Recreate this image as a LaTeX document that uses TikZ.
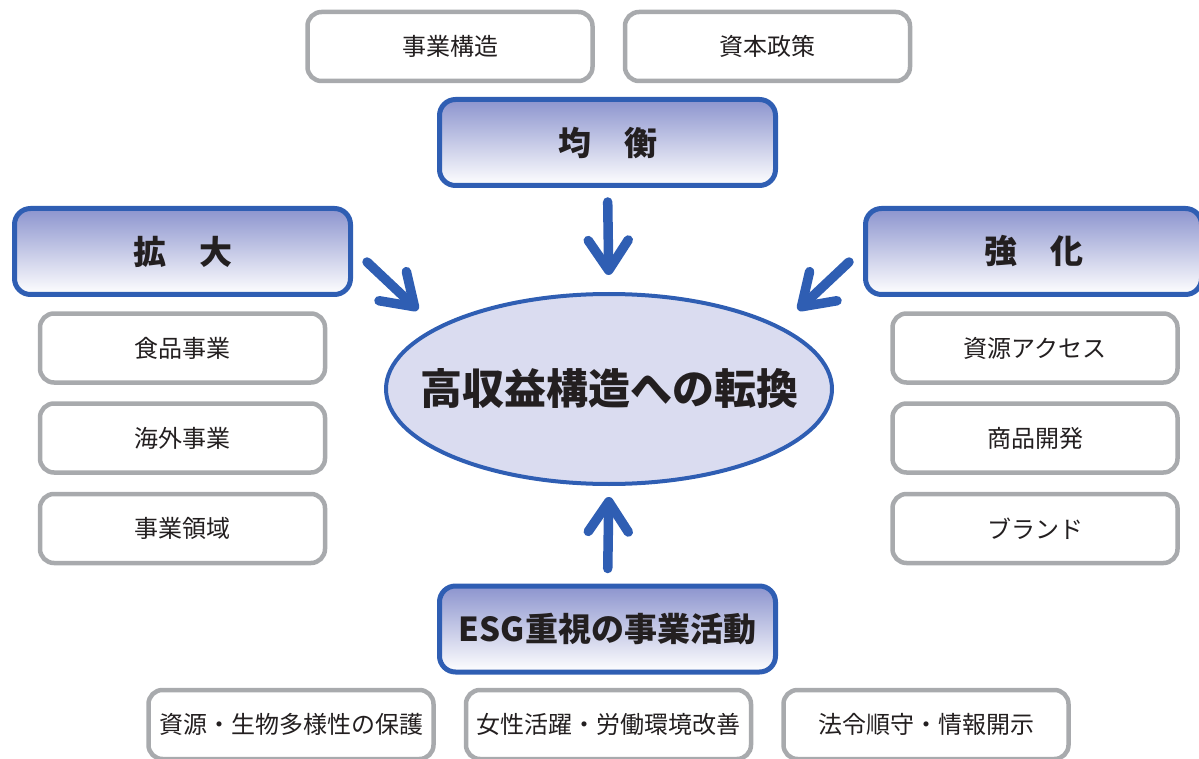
\documentclass[tikz,border=0pt]{standalone}
\usepackage{fontspec}
\setmainfont{Noto Sans CJK JP}
\usetikzlibrary{arrows.meta,shapes.geometric}

\definecolor{blueline}{RGB}{47,94,179}
\definecolor{headtop}{RGB}{140,148,206}
\definecolor{goalfill}{RGB}{218,220,240}
\definecolor{grayline}{RGB}{168,170,173}
\definecolor{textdark}{RGB}{35,31,32}

\tikzset{
  graybox/.style={draw=grayline, line width=4.5pt, rounded corners=14pt, fill=white,
    minimum width=285pt, minimum height=69pt, inner sep=0pt, text=textdark,
    font=\fontsize{24}{28}\selectfont},
  headbox/.style={draw=blueline, line width=5pt, rounded corners=16pt,
    top color=headtop, bottom color=white, minimum width=336pt, minimum height=86pt,
    inner sep=0pt, text=textdark, font=\bfseries\fontsize{33}{38}\selectfont},
  bigarrow/.style={draw=blueline, line width=9.5pt, line cap=round,
    -{Straight Barb[round, length=30pt, width=40pt]}}
}

\begin{document}
\begin{tikzpicture}[x=1pt, y=-1pt]

  \useasboundingbox (0,0) rectangle (1199,759);

  % Draw the goal
  \node[ellipse, draw=blueline, line width=4pt, fill=goalfill, minimum width=446pt,
    minimum height=190pt, inner xsep=-33pt, inner ysep=0pt, text=textdark,
    font=\bfseries\fontsize{42}{48}\selectfont] (goal) at (609,389) {高収益構造への転換};

  \node[headbox] (balance) at (607.5,142.5) {均\hspace{1em}衡};
  \node[headbox] (expand) at (182.5,251.5) {拡\hspace{1em}大};
  \node[headbox] (strength) at (1033.5,251.5) {強\hspace{1em}化};
  \node[headbox] (esg) at (607.5,629) {ESG重視の事業活動};

  \node[graybox] (structure) at (450,46.5) {事業構造};
  \node[graybox] (capital) at (767.5,46.5) {資本政策};

  \node[graybox] (food) at (182.5,348) {食品事業};
  \node[graybox] (overseas) at (182.5,438) {海外事業};
  \node[graybox] (domain) at (182.5,528.5) {事業領域};

  \node[graybox] (access) at (1035,348) {資源アクセス};
  \node[graybox] (product) at (1035,438) {商品開発};
  \node[graybox] (brand) at (1035,528.5) {ブランド};

  \node[graybox] (nature) at (291,724.5) {資源・生物多様性の保護};
  \node[graybox] (labour) at (608.5,724.5) {女性活躍・労働環境改善};
  \node[graybox] (comply) at (926,724.5) {法令順守・情報開示};

  % arrows into the goal
  \coordinate (ltail) at (367,262);
  \coordinate (lhead) at (418,310);
  \coordinate (rtail) at (849,262);
  \coordinate (rhead) at (798,310);

  \draw[bigarrow, shorten <=14pt, shorten >=17pt] (balance.south) -- (goal.north);
  \draw[bigarrow, shorten <=15pt, shorten >=11pt] (esg.north) -- (goal.south);
  \draw[bigarrow] (ltail) -- (lhead);
  \draw[bigarrow] (rtail) -- (rhead);

\end{tikzpicture}
\end{document}
